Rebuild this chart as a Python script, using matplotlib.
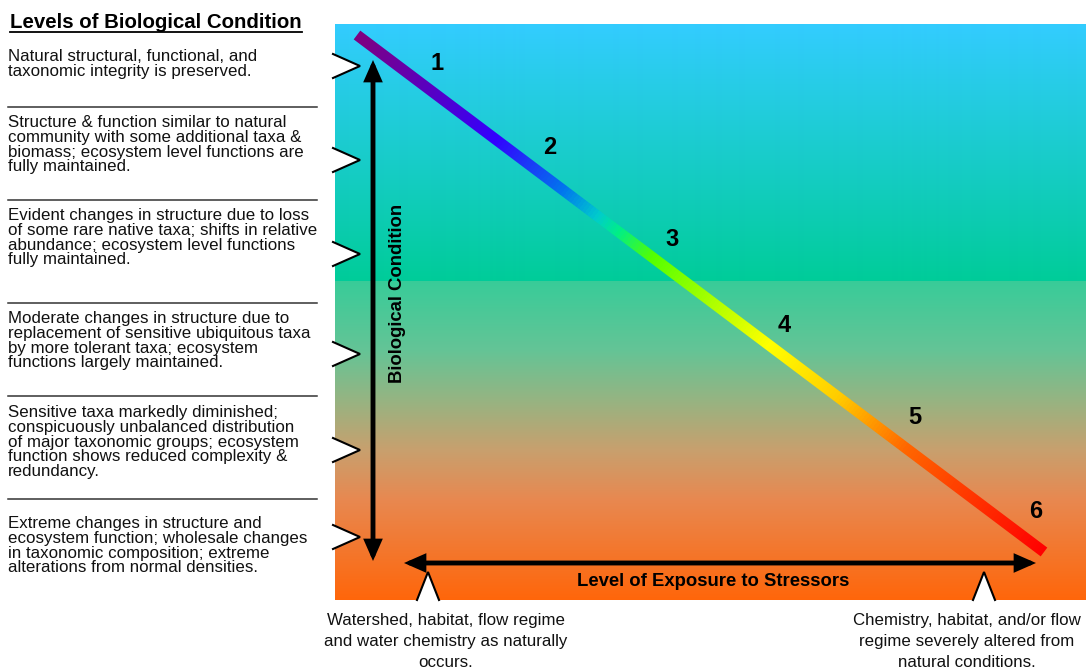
import numpy as np
import matplotlib
matplotlib.use("Agg")
import matplotlib.pyplot as plt
from matplotlib.colors import LinearSegmentedColormap
from matplotlib.patches import Polygon

plt.rcParams['font.family'] = ['Liberation Sans', 'DejaVu Sans']

# ── DATOS ─────────────────────────────────────────
titulo = "Levels of Biological Condition"
niveles = ["1", "2", "3", "4", "5", "6"]
descripciones = [
    "Natural structural, functional, and\ntaxonomic integrity is preserved.",
    "Structure & function similar to natural\ncommunity with some additional taxa &\n"
    "biomass; ecosystem level functions are\nfully maintained.",
    "Evident changes in structure due to loss\nof some rare native taxa; shifts in relative\n"
    "abundance; ecosystem level functions\nfully maintained.",
    "Moderate changes in structure due to\nreplacement of sensitive ubiquitous taxa\n"
    "by more tolerant taxa; ecosystem\nfunctions largely maintained.",
    "Sensitive taxa markedly diminished;\nconspicuously unbalanced distribution\n"
    "of major taxonomic groups; ecosystem\nfunction shows reduced complexity &\nredundancy.",
    "Extreme changes in structure and\necosystem function; wholesale changes\n"
    "in taxonomic composition; extreme\nalterations from normal densities.",
]
eje_y = "Biological Condition"
eje_x = "Level of Exposure to Stressors"
extremos_x = [
    "Watershed, habitat, flow regime\nand water chemistry as naturally\noccurs.",
    "Chemistry, habitat, and/or flow\nregime severely altered from\nnatural conditions.",
]

# ── LAYOUT (pixeles) ──────────────────────────────
W, H = 1086, 671
PX0, PX1, PY0, PY1 = 335, 1086, 24, 600      # panel de colores
desc_top = [50, 116, 209, 312, 406, 517]
separadores = [107, 200, 303, 396, 499]
marcas_y = [66, 160, 254, 354, 450, 537]
marcas_x = [428, 984]
linea = ((357, 35), (1044, 552))
num_pos = [(437, 63), (550, 147), (672, 240), (784, 325), (915, 418), (1036, 512)]

fig = plt.figure(figsize=(W / 100, H / 100), dpi=100)
ax = fig.add_axes([0, 0, 1, 1])
ax.set_xlim(0, W)
ax.set_ylim(H, 0)
ax.axis("off")

# fondo degradado
ys = np.arange(PY0, PY1) + 0.5
stops_y = [24, 281, 281.01, 350, 400, 450, 500, 600]
stops_c = [(51, 204, 255), (0, 204, 153), (56, 204, 153), (100, 196, 150),
           (150, 180, 130), (200, 160, 110), (232, 136, 80), (255, 102, 10)]
stops_c = np.array(stops_c) / 255
bg = np.stack([np.interp(ys, stops_y, stops_c[:, k]) for k in range(3)], axis=1)
bg = bg[:, None, :]
ax.imshow(bg, extent=(PX0, PX1, PY1, PY0), aspect="auto", zorder=0,
          interpolation="bilinear")

# linea arcoiris
arco = LinearSegmentedColormap.from_list("arco", [
    (0.0, "#800080"), (0.2, "#3300FF"), (0.3, "#0077EE"), (0.35, "#00CCCC"),
    (0.38, "#00EE88"), (0.43, "#55FF00"), (0.6, "#FFFF00"), (0.7, "#FFCC00"),
    (0.8, "#FF6600"), (1.0, "#FF0000")])
(ax0, ay0), (ax1, ay1) = linea
d = np.array([ax1 - ax0, ay1 - ay0], float)
L = np.hypot(*d)
u = d / L
nrm = np.array([-u[1], u[0]])
hw = 5.5
gx = np.arange(ax0 - 10, ax1 + 10) + 0.5
gy = np.arange(ay0 - 10, ay1 + 10) + 0.5
GX, GY = np.meshgrid(gx, gy)
t = np.clip(((GX - ax0) * u[0] + (GY - ay0) * u[1]) / L, 0, 1)
img = ax.imshow(arco(t), extent=(gx[0] - 0.5, gx[-1] + 0.5, gy[-1] + 0.5, gy[0] - 0.5),
                aspect="auto", zorder=2, interpolation="nearest")
p0 = np.array([ax0, ay0]); p1 = np.array([ax1, ay1])
clip = Polygon([p0 + nrm * hw, p1 + nrm * hw, p1 - nrm * hw, p0 - nrm * hw],
               closed=True, transform=ax.transData, facecolor="none", edgecolor="none")
ax.add_patch(clip)
img.set_clip_path(clip)

# numeros de nivel
for (x, y), n in zip(num_pos, niveles):
    ax.text(x, y, n, ha="center", va="center", fontsize=17, fontweight="bold", zorder=3)

# flechas
flecha = dict(arrowstyle="<|-|>,head_length=0.5,head_width=0.22", mutation_scale=20,
              lw=3.5, color="black", shrinkA=0, shrinkB=0, joinstyle="miter")
ax.annotate("", xy=(373, 60), xytext=(373, 561), arrowprops=flecha, zorder=4)
ax.annotate("", xy=(404, 563), xytext=(1036, 563), arrowprops=flecha, zorder=4)

ax.text(397, 293, eje_y, rotation=90, ha="center", va="center",
        fontsize=13.3, fontweight="bold", zorder=4)
ax.text(713, 582, eje_x, ha="center", va="center",
        fontsize=13.3, fontweight="bold", zorder=4)

# marcas laterales (triangulos blancos)
for y in marcas_y:
    pts = [(PX0 - 2, y - 12), (360, y), (PX0 - 2, y + 12)]
    ax.add_patch(Polygon(pts, closed=True, facecolor="white", edgecolor="none", zorder=3))
    ax.plot(*zip(*pts), color="black", lw=1.5, zorder=3, solid_joinstyle="miter")
for x in marcas_x:
    pts = [(x - 11, PY1), (x, 572), (x + 11, PY1)]
    ax.add_patch(Polygon(pts, closed=True, facecolor="white", edgecolor="none", zorder=3))
    ax.plot(*zip(*pts), color="black", lw=1.5, zorder=3, solid_joinstyle="miter")

# textos de la izquierda
t_tit = ax.text(10, 28, titulo, ha="left", va="baseline", fontsize=14.7, fontweight="bold")
for y, txt in zip(desc_top, descripciones):
    ax.text(8, y - 1, txt, ha="left", va="top", fontsize=12.2, linespacing=0.98,
            color="#111111")
for y in separadores:
    ax.plot([8, 317], [y, y], color="#333333", lw=1.1)

# textos inferiores
for x, txt in zip([446, 967], extremos_x):
    ax.text(x, 613, txt, ha="center", va="top", fontsize=12.2,
            linespacing=1.5, color="#111111")

# subrayado del titulo
fig.canvas.draw()
bb = t_tit.get_window_extent().transformed(ax.transData.inverted())
ax.plot([bb.x0, bb.x1], [32, 32], color="black", lw=1.3)

fig.savefig("out.png", dpi=100)
